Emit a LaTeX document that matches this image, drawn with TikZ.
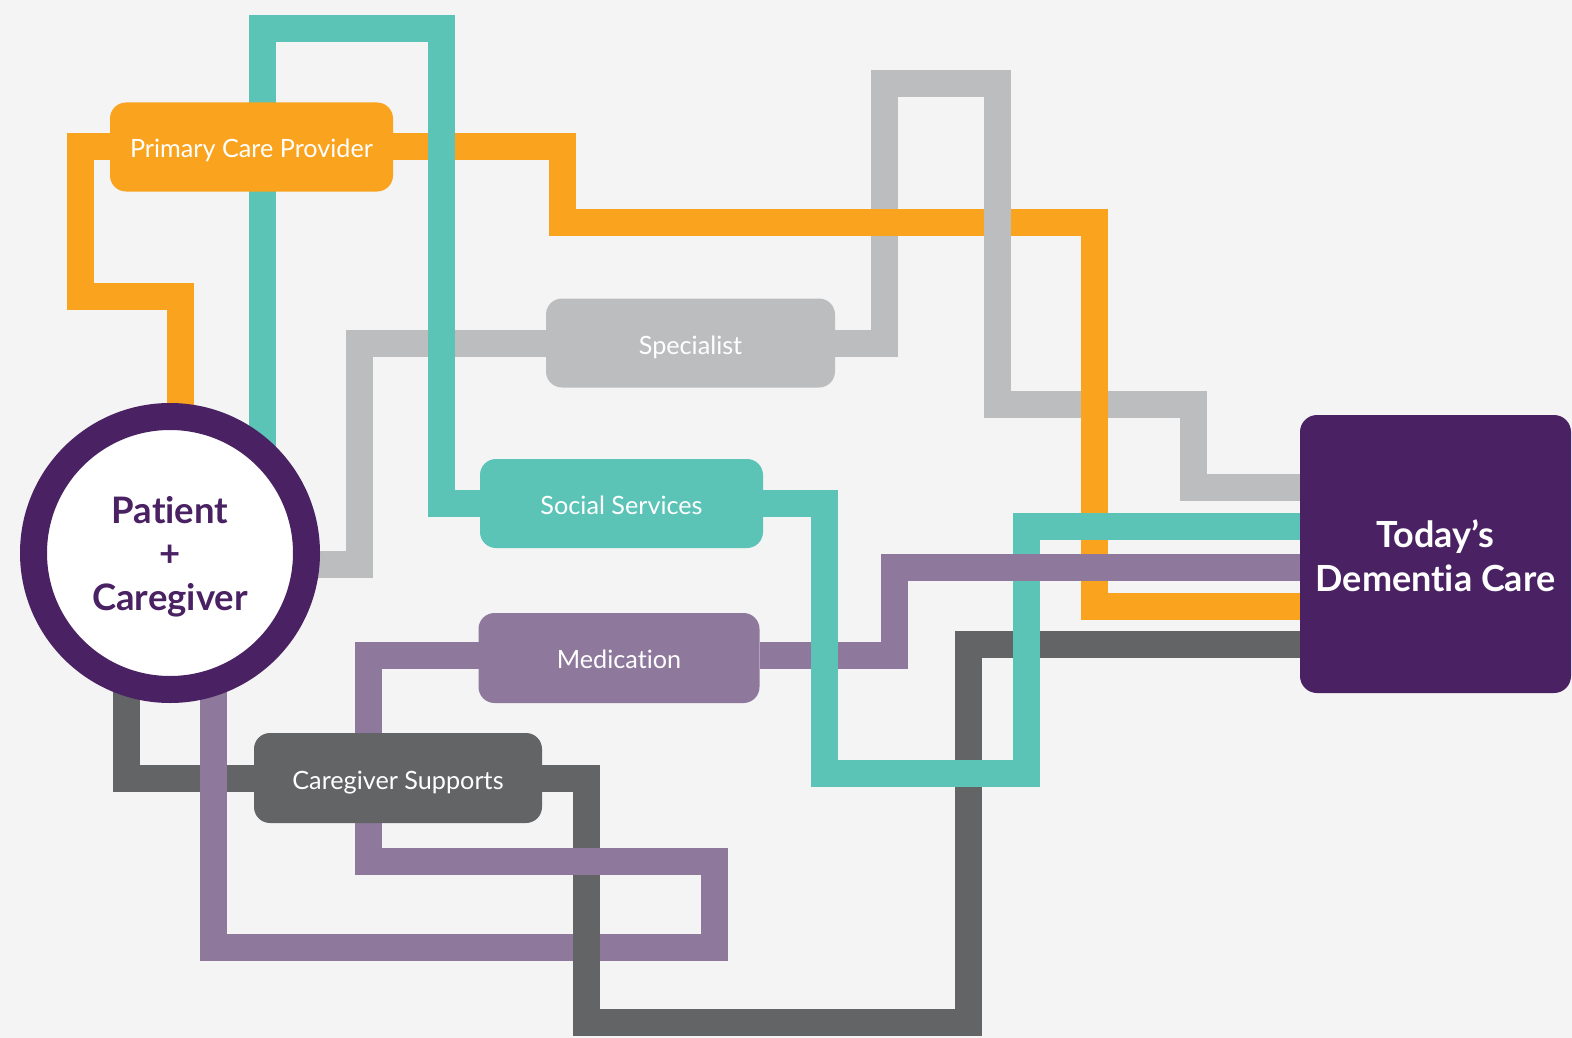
\documentclass[tikz,border=0pt]{standalone}
\usepackage{fontspec}
\setmainfont{Lato}[Ligatures=NoCommon]
\definecolor{bgc}{HTML}{F4F4F4}
\definecolor{corange}{HTML}{F9A31E}
\definecolor{cteal}{HTML}{5BC4B7}
\definecolor{clgray}{HTML}{BCBDBF}
\definecolor{clpurple}{HTML}{8E799D}
\definecolor{cdgray}{HTML}{636466}
\definecolor{cdpurple}{HTML}{4A2263}
\pgfdeclarelayer{bgl}
\pgfdeclarelayer{lin}
\pgfsetlayers{bgl,lin,main}
\newcommand{\lowtext}[2]{\raisebox{-#1pt}[\height][\depth]{#2}}
\begin{document}
\begin{tikzpicture}[x=1pt,y=-1pt,
  conn/.style={line width=27pt, line join=miter, line cap=butt},
  orangeline/.style={conn, draw=corange},
  tealline/.style={conn, draw=cteal},
  grayline/.style={conn, draw=clgray},
  purpline/.style={conn, draw=clpurple},
  dgrayline/.style={conn, draw=cdgray},
  cbox/.style={rounded corners=16pt, minimum height=89pt, inner sep=0pt, outer sep=0pt, text=white, font=\fontsize{25.2}{28}\selectfont},
]
\useasboundingbox (0,0) rectangle (1572,1038);
\begin{pgfonlayer}{bgl}
\fill[bgc] (0,0) rectangle (1572,1038);
\end{pgfonlayer}

% nodes
\node[circle, draw=cdpurple, line width=27pt, fill=white, minimum size=273pt, inner sep=0pt, outer sep=0pt,
      text=cdpurple, font=\bfseries\fontsize{36.5}{43.5}\selectfont] (pc) at (170,553)
      {\lowtext{5}{\begin{tabular}{@{}c@{}}Patient\\+\\Caregiver\end{tabular}}};
\node[cbox, fill=corange, minimum width=283pt] (pcp) at (251.5,147) {\lowtext{3.5}{Primary Care Provider}};
\node[cbox, fill=clgray, minimum width=289pt] (spec) at (690.5,343) {\lowtext{4.5}{Specialist}};
\node[cbox, fill=cteal, minimum width=283pt] (soc) at (621.5,503.5) {\lowtext{2}{Social Services}};
\node[cbox, fill=clpurple, minimum width=281pt, minimum height=90pt] (med) at (619,658) {\lowtext{1}{Medication}};
\node[cbox, fill=cdgray, minimum width=288pt, minimum height=90pt] (cgs) at (398,778) {\lowtext{4.5}{Caregiver Supports}};
\node[rounded corners=17pt, fill=cdpurple, minimum width=271pt, minimum height=278pt, inner sep=0pt, outer sep=0pt,
      text=white, font=\bfseries\fontsize{36}{44}\selectfont] (tdc) at (1435.5,554)
      {\lowtext{7}{\begin{tabular}{@{}c@{}}Today’s\\Dementia Care\end{tabular}}};

\begin{pgfonlayer}{lin}
% light gray
\draw[grayline] (spec.west) -| (359.5,564) -- (pc.center |- 0,564);
\draw[grayline] (spec.east) -| (884.5,83.5) -| (997.5,404.5) -| (1193,487) -- (tdc.west |- 0,487);
% orange
\draw[orangeline] (pcp.west) -| (80.5,296.5) -| ([xshift=10.5pt]pc.center);
\draw[orangeline] (pcp.east) -| (562.5,222.5) -| (1094.5,606) -- (tdc.west |- 0,606);
% dark gray
\draw[dgrayline] (cgs.west) -| ([xshift=-44pt]pc.center);
\draw[dgrayline] (cgs.east) -| (586,1022) -| (968.5,644) -- (tdc.west |- 0,644);
% purple
\draw[purpline] ([yshift=3pt]med.west) -| (368.5,861) -| (714.5,947) -| ([xshift=43.5pt]pc.center);
% teal
\draw[tealline] (pc.center) -| (262.5,28.5) -- (441.5,28.5) |- (soc.west);
\draw[tealline] (soc.east) -| (824,773) -| (1026.5,526) -- (tdc.west |- 0,526);
% purple right
\draw[purpline] ([yshift=3pt]med.east) -| (894,567) -- (tdc.west |- 0,567);
% weave fixes
\draw[grayline] (997.5,195) -- (997.5,250);
\draw[tealline] (824,630) -- (824,680);
\draw[dgrayline] (586,920) -- (586,975);
\end{pgfonlayer}
\end{tikzpicture}
\end{document}
